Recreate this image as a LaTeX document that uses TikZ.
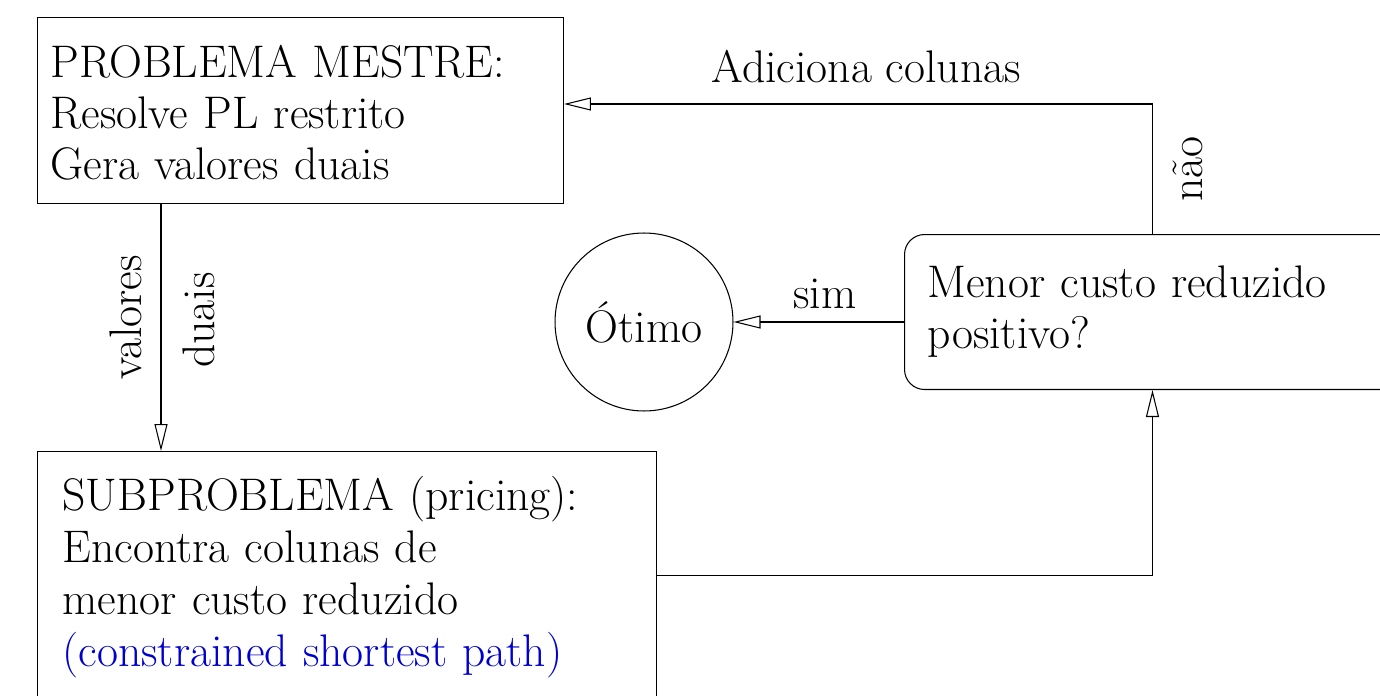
\documentclass[tikz,border=0pt]{standalone}
\usepackage{fontspec}
\usetikzlibrary{arrows.meta,positioning}
\definecolor{azul}{RGB}{0,0,205}

\begin{document}
\begin{tikzpicture}[x=0.02cm, y=-0.02cm, line width=0.6pt,
		font=\fontsize{26}{29}\selectfont,
		caixa/.style={draw, align=left, inner ysep=0pt, anchor=north west},
		seta/.style={-{Triangle[open, length=0.54cm, width=0.26cm]}},
		rotulo/.style={rotate=90}]
		%%%%% AREA %%%%%
		\useasboundingbox (0,0) rectangle (1380,696);
		\clip (0,0) rectangle (1380,696);
		
		%%%%% CAIXAS %%%%%
		\node[caixa, inner xsep=0.26cm, text width=10cm, text height=1.2cm, text depth=2.52cm,
			font=\fontsize{26}{29}\selectfont] (mestre) at (37,17)
			{PROBLEMA MESTRE:\\Resolve PL restrito\\Gera valores duais};
		
		\node[caixa, inner xsep=0.5cm, text width=11.38cm, text height=1.18cm, text depth=3.78cm,
			font=\fontsize{26}{29.6}\selectfont] (sub) at (37,451)
			{SUBPROBLEMA (pricing):\\Encontra colunas de\\menor custo reduzido\\\textcolor{azul}{(constrained shortest path)}};
		
		\node[caixa, rounded corners=0.4cm, inner xsep=0.46cm, text width=9cm,
			text height=1.26cm, text depth=1.84cm] (decisao) at (904,234)
			{Menor custo reduzido\\positivo?};
		
		\node[draw, circle, minimum size=3.56cm, inner sep=0pt] (otimo) at (644,322) {Ótimo};
		
		%%%%% SETAS %%%%%
		\coordinate (colA) at (161,0);
		\coordinate (topo) at (0,104);
		
		\draw[seta] (mestre.south -| colA) -- (sub.north -| colA)
			node[rotulo, pos=0.46, anchor=south, inner ysep=0.38cm] {valores}
			node[rotulo, pos=0.47, anchor=north, inner ysep=0.42cm] {duais};
		\draw[seta] (sub.east) -| (decisao.south);
		\draw[seta] (decisao.north) -- (decisao.north |- topo)
			node[rotulo, midway, anchor=north, inner ysep=0.4cm] {não}
			-- (mestre.east |- topo)
			node[midway, above, inner ysep=0.42cm, xshift=0.16cm] {Adiciona colunas};
		\draw[seta] (decisao.west |- otimo) -- (otimo)
			node[midway, above, inner ysep=0.26cm, xshift=0.12cm] {sim};
		
	\end{tikzpicture}
\end{document}
